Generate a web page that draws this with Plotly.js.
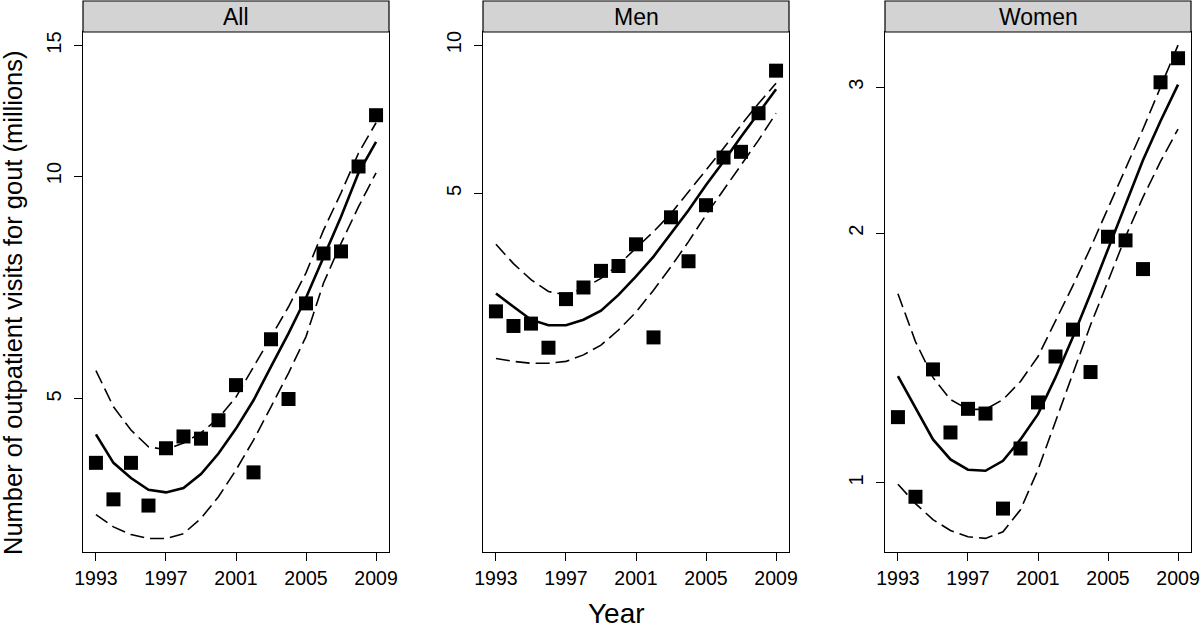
<!DOCTYPE html>
<html>
<head>
<meta charset="utf-8">
<script src="https://cdn.plot.ly/plotly-3.0.1.min.js"></script>
<style>
  html, body { margin: 0; padding: 0; background: #fff; }
  #plot { width: 1200px; height: 629px; }
</style>
</head>
<body>
<div id="plot"></div>
<script>
// outpatient visits for gout, millions (log scale), observed + fitted with 95% band
const years = [1993, 1994, 1995, 1996, 1997, 1998, 1999, 2000, 2001,
               2002, 2003, 2004, 2005, 2006, 2007, 2008, 2009];

const allObs = [4.10, 3.66, 4.10, 3.59, 4.29, 4.45, 4.42, 4.68, 5.22,
                3.98, 6.02, 5.00, 6.73, 7.86, 7.91, 10.3, 12.08];
const allFit = [4.48, 4.10, 3.91, 3.77, 3.74, 3.79, 3.96, 4.22, 4.56,
                4.98, 5.53, 6.13, 6.85, 7.78, 8.81, 10.1, 11.12];
const allHi  = [5.46, 4.88, 4.54, 4.31, 4.27, 4.36, 4.50, 4.71, 5.03,
                5.53, 6.07, 6.66, 7.40, 8.45, 9.49, 10.74, 11.8];
const allLo  = [3.49, 3.36, 3.28, 3.24, 3.24, 3.29, 3.45, 3.69, 4.01,
                4.40, 4.88, 5.42, 6.07, 7.17, 8.11, 9.09, 10.1];

const menObs = [2.88, 2.69, 2.72, 2.43, 3.05, 3.22, 3.48, 3.56, 3.94,
                2.55, 4.47, 3.64, 4.73, 5.91, 6.07, 7.27, 8.87];
const menFit = [3.13, 2.94, 2.77, 2.70, 2.70, 2.77, 2.89, 3.11, 3.39,
                3.72, 4.15, 4.62, 5.20, 5.80, 6.51, 7.27, 8.13];
const menHi  = [3.94, 3.60, 3.34, 3.16, 3.11, 3.21, 3.36, 3.58, 3.87,
                4.18, 4.55, 5.04, 5.57, 6.17, 6.88, 7.61, 8.36];
const menLo  = [2.31, 2.28, 2.26, 2.26, 2.28, 2.35, 2.46, 2.64, 2.87,
                3.18, 3.55, 3.99, 4.52, 5.08, 5.71, 6.41, 7.27];

const womenObs = [1.20, 0.962, 1.37, 1.15, 1.228, 1.212, 0.931, 1.10, 1.25,
                  1.42, 1.53, 1.36, 1.98, 1.96, 1.81, 3.04, 3.25];
const womenFit = [1.345, 1.23, 1.128, 1.067, 1.037, 1.034, 1.063, 1.128, 1.21,
                  1.34, 1.50, 1.69, 1.91, 2.17, 2.45, 2.73, 3.02];
const womenHi  = [1.69, 1.48, 1.34, 1.26, 1.226, 1.226, 1.26, 1.325, 1.42,
                  1.565, 1.73, 1.92, 2.14, 2.39, 2.67, 3.00, 3.37];
const womenLo  = [0.996, 0.944, 0.903, 0.876, 0.861, 0.857, 0.873, 0.928, 1.037,
                  1.185, 1.355, 1.55, 1.75, 1.98, 2.21, 2.44, 2.67];

const panelNames = ['All', 'Men', 'Women'];
const xTicks = [1993, 1997, 2001, 2005, 2009];
const yTicks = [[5, 10, 15], [5, 10], [1, 2, 3]];

const FONT = 'Liberation Sans, Arial, Helvetica, sans-serif';

const panels = [
  {obs: allObs, fit: allFit, hi: allHi, lo: allLo},
  {obs: menObs, fit: menFit, hi: menHi, lo: menLo},
  {obs: womenObs, fit: womenFit, hi: womenHi, lo: womenLo},
];

const xDomains = [[83 / 1200, 389 / 1200], [483 / 1200, 789 / 1200], [885 / 1200, 1191 / 1200]];
const yDomain = [77 / 629, 597 / 629];
const yRanges = [[0.4924, 1.1944], [-0.029, 1.0264], [-0.0834, 0.5435]];

let data = [];
let layout = {
  width: 1200,
  height: 629,
  margin: {l: 0, r: 0, t: 0, b: 0},
  paper_bgcolor: '#ffffff',
  plot_bgcolor: '#ffffff',
  showlegend: false,
  font: {family: FONT, color: '#000'},
  shapes: [],
  annotations: [],
};

panels.forEach(function (p, i) {
  const n = i === 0 ? '' : String(i + 1);
  const xa = 'x' + n, ya = 'y' + n;

  data.push({
    x: years, y: p.hi, xaxis: xa, yaxis: ya, mode: 'lines',
    line: {color: '#000', width: 1.6, dash: '14px,6px'},
  });
  data.push({
    x: years, y: p.lo, xaxis: xa, yaxis: ya, mode: 'lines',
    line: {color: '#000', width: 1.6, dash: '14px,6px'},
  });
  data.push({
    x: years, y: p.fit, xaxis: xa, yaxis: ya, mode: 'lines',
    line: {color: '#000', width: 2.6},
  });
  data.push({
    x: years, y: p.obs, xaxis: xa, yaxis: ya, mode: 'markers',
    marker: {symbol: 'square', size: 14, color: '#000'},
  });

  layout['xaxis' + n] = {
    domain: xDomains[i],
    anchor: ya,
    range: [1992.26, 2009.74],
    tickvals: xTicks,
    ticks: 'outside',
    ticklen: 8,
    tickcolor: '#000',
    showline: true,
    linecolor: '#000',
    linewidth: 1.2,
    mirror: true,
    showgrid: false,
    zeroline: false,
    tickfont: {family: FONT, size: 19.5, color: '#000'},
  };
  layout['yaxis' + n] = {
    domain: yDomain,
    anchor: xa,
    type: 'log',
    range: yRanges[i],
    tickvals: yTicks[i],
    ticktext: yTicks[i].map(String),
    tickangle: -90,
    ticks: 'outside',
    ticklen: 8,
    ticklabelstandoff: 5,
    tickcolor: '#000',
    showline: true,
    linecolor: '#000',
    linewidth: 1.2,
    mirror: true,
    showgrid: false,
    zeroline: false,
    tickfont: {family: FONT, size: 20, color: '#000'},
  };

  // strip header
  layout.shapes.push({
    type: 'rect', xref: 'paper', yref: 'paper',
    x0: xDomains[i][0], x1: xDomains[i][1], y0: yDomain[1], y1: 628 / 629,
    fillcolor: '#d3d3d3',
    line: {color: '#000', width: 1.2},
  });
  layout.annotations.push({
    xref: 'paper', yref: 'paper',
    x: (xDomains[i][0] + xDomains[i][1]) / 2, y: (yDomain[1] + 628 / 629) / 2,
    text: panelNames[i], showarrow: false,
    xanchor: 'center', yanchor: 'middle',
    font: {family: FONT, size: 23, color: '#000'},
  });
});

layout.annotations.push({
  xref: 'paper', yref: 'paper', x: 616 / 1200, y: 16 / 629,
  text: 'Year', showarrow: false, xanchor: 'center', yanchor: 'middle',
  font: {family: FONT, size: 28, color: '#000'},
});
layout.annotations.push({
  xref: 'paper', yref: 'paper', x: 13 / 1200, y: 326 / 629,
  text: 'Number of outpatient visits for gout (millions)', showarrow: false,
  textangle: -90, xanchor: 'center', yanchor: 'middle',
  font: {family: FONT, size: 25.5, color: '#000'},
});

Plotly.newPlot('plot', data, layout, {staticPlot: true});
</script>
</body>
</html>
